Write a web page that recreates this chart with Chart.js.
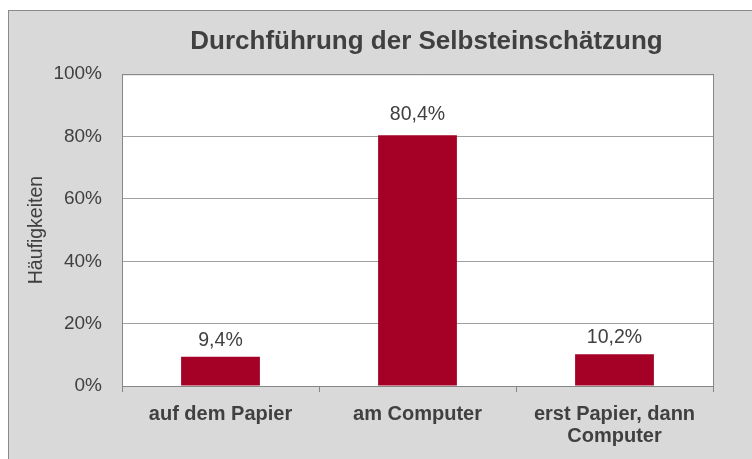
<!DOCTYPE html>
<html>
<head>
<meta charset="utf-8">
<script src="https://cdn.jsdelivr.net/npm/chart.js@4/dist/chart.umd.min.js"></script>
<style>
  html, body { margin: 0; padding: 0; background: #ffffff; overflow: hidden; width: 752px; height: 459px; }
  #frame { position: absolute; left: 8px; top: 10px; width: 835px; height: 470px; background: #d9d9d9; border: 1px solid #8a8a8a; }
  canvas { display: block; }
</style>
</head>
<body>
<div id="frame"><canvas id="c" width="835" height="470"></canvas></div>
<script>
const chartTitle = 'Durchführung der Selbsteinschätzung';
const yAxisTitle = 'Häufigkeiten';
const categories = ['auf dem Papier', 'am Computer', ['erst Papier, dann', 'Computer']];
const values = [9.4, 80.4, 10.2];
const yTicks = [0, 20, 40, 60, 80, 100];

const FONT = "'Liberation Sans', Arial, sans-serif";
const TEXT = '#404040';

const plotFrame = {
  id: 'plotFrame',
  beforeDraw(chart) {
    const a = chart.chartArea, ctx = chart.ctx;
    ctx.save();
    ctx.fillStyle = '#ffffff';
    ctx.fillRect(a.left, a.top, a.right - a.left, a.bottom - a.top);
    ctx.restore();
  },
  afterDatasetsDraw(chart) {
    const a = chart.chartArea, ctx = chart.ctx;
    ctx.save();
    ctx.strokeStyle = '#868686';
    ctx.lineWidth = 1;
    ctx.beginPath();
    ctx.moveTo(a.left, a.top + 0.5);
    ctx.lineTo(a.right, a.top + 0.5);
    ctx.stroke();
    ctx.restore();
  }
};

const valueLabels = {
  id: 'valueLabels',
  afterDatasetsDraw(chart) {
    const ctx = chart.ctx;
    const meta = chart.getDatasetMeta(0);
    ctx.save();
    ctx.font = '19.5px ' + FONT;
    ctx.fillStyle = TEXT;
    ctx.textAlign = 'center';
    ctx.textBaseline = 'alphabetic';
    meta.data.forEach((bar, i) => {
      const txt = values[i].toFixed(1).replace('.', ',') + '%';
      const gap = values[i] > 50 ? 15 : 11;
      ctx.fillText(txt, bar.x, bar.y - gap);
    });
    ctx.restore();
  }
};

new Chart(document.getElementById('c'), {
  type: 'bar',
  data: {
    labels: categories,
    datasets: [{
      data: values,
      backgroundColor: '#a50026',
      borderWidth: 0,
      barPercentage: 0.4,
      categoryPercentage: 1.0
    }]
  },
  options: {
    responsive: false,
    animation: false,
    devicePixelRatio: 1,
    layout: { padding: 0 },
    plugins: {
      legend: { display: false },
      tooltip: { enabled: false },
      title: {
        display: true,
        text: chartTitle,
        color: TEXT,
        font: { family: FONT, size: 26, weight: 'bold', lineHeight: 1.2 },
        padding: { top: 15, bottom: 17 }
      }
    },
    scales: {
      x: {
        grid: { display: true, drawOnChartArea: false, drawTicks: true, tickLength: 6, color: '#868686', offset: true },
        border: { display: true, color: '#868686' },
        ticks: {
          color: TEXT,
          font: { family: FONT, size: 20, weight: 'bold', lineHeight: 1.1 },
          padding: 11,
          maxRotation: 0,
          autoSkip: false
        },
        afterFit(scale) { scale.height = 95; }
      },
      y: {
        min: 0,
        max: 100,
        afterBuildTicks(scale) { scale.ticks = yTicks.map(v => ({ value: v })); },
        grid: { color: '#a0a0a0', drawTicks: false },
        border: { display: true, color: '#868686' },
        ticks: {
          color: TEXT,
          font: { family: FONT, size: 19 },
          padding: 20,
          callback: v => v + '%'
        },
        title: {
          display: true,
          text: yAxisTitle,
          color: TEXT,
          font: { family: FONT, size: 19.5 },
          padding: { top: 16, bottom: 0 }
        },
        afterFit(scale) { scale.width = 113; }
      },
      yRight: {
        position: 'right',
        min: 0,
        max: 100,
        grid: { display: false, drawOnChartArea: false, drawTicks: false },
        border: { display: true, color: '#868686' },
        ticks: { display: false },
        afterFit(scale) { scale.width = 131; }
      }
    }
  },
  plugins: [plotFrame, valueLabels]
});
</script>
</body>
</html>
